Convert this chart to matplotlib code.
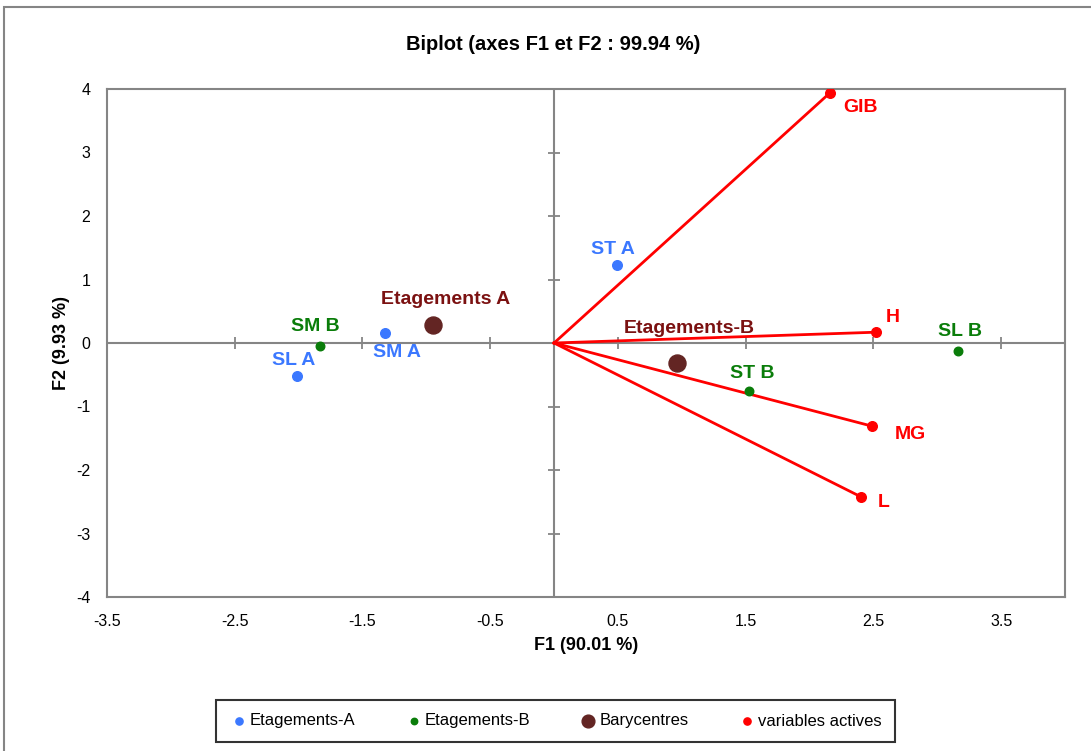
import matplotlib.pyplot as plt
from matplotlib.patches import Rectangle
import numpy as np

plt.rcParams['font.family'] = ['Liberation Sans', 'DejaVu Sans']
plt.rcParams['axes.unicode_minus'] = False

# observations (F1, F2)
obs_a_names = ['SM A', 'SL A', 'ST A']
obs_a_x = [-1.32, -2.01, 0.49]
obs_a_y = [0.16, -0.52, 1.23]

obs_b_names = ['SM B', 'ST B', 'SL B']
obs_b_x = [-1.83, 1.53, 3.16]
obs_b_y = [-0.05, -0.76, -0.13]

bary_names = ['Etagements A', 'Etagements-B']
bary_x = [-0.95, 0.96]
bary_y = [0.28, -0.31]

var_names = ['GIB', 'H', 'MG', 'L']
var_x = [2.16, 2.52, 2.49, 2.40]
var_y = [3.94, 0.17, -1.31, -2.42]

# label offsets in pixels (dx, dy), dy up
off_a = [(12, -20), (-4, 16), (-4, 15)]
off_b = [(-5, 20), (3, 18), (2, 20)]
off_bary = [(13, 26), (13, 34)]
off_var = [(31, -15), (17, 15), (38, -8), (23, -6)]

c_a = '#3b78ff'
c_b = '#0a7d0a'
c_bary = '#632523'
c_bary_txt = '#7b1111'
c_var = '#ff0000'
gray = '#858585'

fig = plt.figure(figsize=(10.91, 7.51), dpi=100)
ax = fig.add_axes([107/1091, 1-597/751, (1065-107)/1091, (597-89)/751])

# central axes with tick marks
xt = np.arange(-3.5, 3.6, 1.0)
yt = np.arange(-4, 5, 1)
ax.axhline(0, color=gray, lw=1.5, zorder=1)
ax.axvline(0, color=gray, lw=1.5, zorder=1)
ax.plot(xt, np.zeros_like(xt), ls='none', marker='|', ms=9, mew=1.3, color=gray, zorder=1)
yin = yt[(yt > -4) & (yt < 4) & (yt != 0)]
ax.plot(np.zeros_like(yin), yin, ls='none', marker='_', ms=9, mew=1.3, color=gray, zorder=1)

# variable vectors
for x, y in zip(var_x, var_y):
    ax.plot([0, x], [0, y], color=c_var, lw=2, zorder=2)

ax.scatter(obs_a_x, obs_a_y, s=48, color=c_a, zorder=3, label='Etagements-A')
ax.scatter(obs_b_x, obs_b_y, s=38, color=c_b, zorder=3, label='Etagements-B')
ax.scatter(bary_x, bary_y, s=150, color=c_bary, zorder=3, label='Barycentres')
ax.scatter(var_x, var_y, s=48, color=c_var, zorder=3, label='variables actives')

def labels(names, xs, ys, offs, col):
    for n, x, y, o in zip(names, xs, ys, offs):
        ax.annotate(n, (x, y), xytext=o, textcoords='offset pixels',
                    ha='center', va='center', color=col, fontsize=14,
                    fontweight='bold', zorder=4)

labels(obs_a_names, obs_a_x, obs_a_y, off_a, c_a)
labels(obs_b_names, obs_b_x, obs_b_y, off_b, c_b)
labels(bary_names, bary_x, bary_y, off_bary, c_bary_txt)
labels(var_names, var_x, var_y, off_var, c_var)

ax.set_xlim(-3.5, 4)
ax.set_ylim(-4, 4)
ax.set_xticks(xt)
ax.set_xticklabels(['%g' % v for v in xt])
ax.set_yticks(yt)
ax.tick_params(length=0, labelsize=11.5, pad=12)
for s in ax.spines.values():
    s.set_color(gray)
    s.set_linewidth(1.5)

ax.set_xlabel('F1 (90.01 %)', fontsize=13, fontweight='bold', labelpad=6)
ax.set_ylabel('F2 (9.93 %)', fontsize=13, fontweight='bold', labelpad=4)
fig.text(0.507, 1-44/751, 'Biplot (axes F1 et F2 : 99.94 %)', ha='center', va='center',
         fontsize=14.5, fontweight='bold')

leg = fig.legend(loc='center', bbox_to_anchor=(555/1091, 1-721/751), ncol=4,
                 fancybox=False, edgecolor='black', fontsize=12, handletextpad=0.05,
                 columnspacing=2.9, markerscale=0.75, borderpad=0.8, handlelength=1.2)
leg.get_frame().set_linewidth(1.5)

# outer chart border
fig.patches.append(Rectangle((4/1091, -0.1), 1.2, 1-7/751+0.1, transform=fig.transFigure,
                             fill=False, edgecolor=gray, lw=1.5))

fig.savefig('out.png', dpi=100)
